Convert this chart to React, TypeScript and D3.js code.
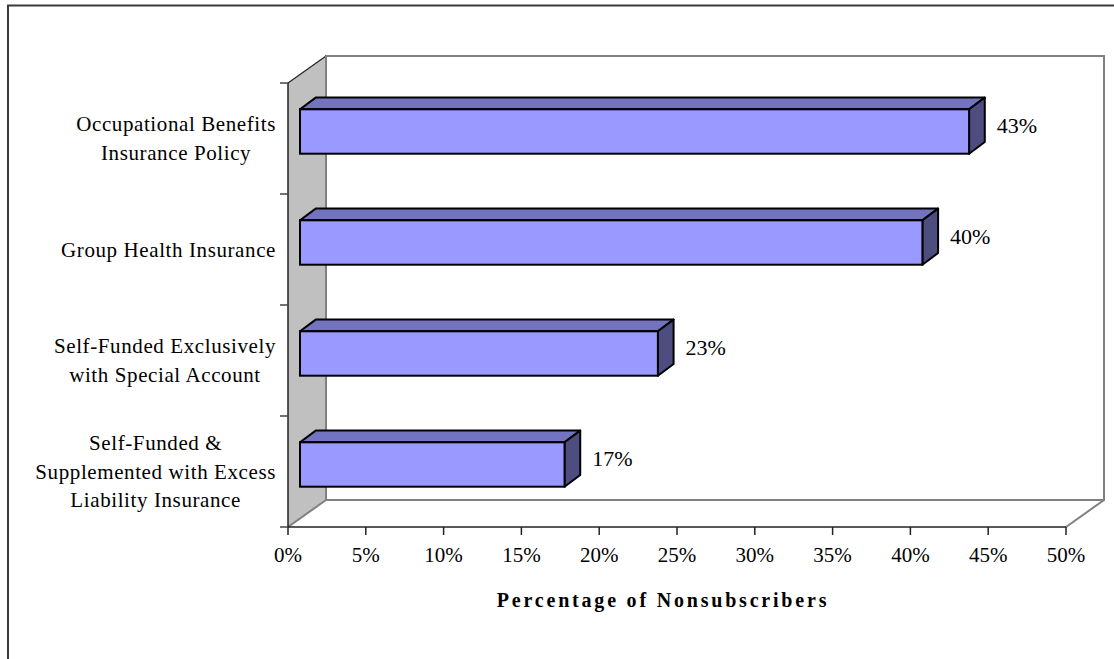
import React, { useEffect, useRef } from "react";
import * as d3 from "d3";

const categoryLines: string[][] = [
  ["Occupational Benefits", "Insurance Policy"],
  ["Group Health Insurance"],
  ["Self-Funded Exclusively", "with Special Account"],
  ["Self-Funded &", "Supplemented with Excess", "Liability Insurance"],
];
const categories = ["Occupational Benefits Insurance Policy", "Group Health Insurance", "Self-Funded Exclusively with Special Account", "Self-Funded & Supplemented with Excess Liability Insurance"];
const values = [43, 40, 23, 17];
const tickValues = [0, 5, 10, 15, 20, 25, 30, 35, 40, 45, 50];
const axisTitle = "Percentage of Nonsubscribers";

const W = 1114;
const H = 659;
const FONT = "'Liberation Serif', 'Times New Roman', serif";

export default function App() {
  const ref = useRef<SVGSVGElement | null>(null);

  useEffect(() => {
    const svg = d3.select(ref.current);
    svg.selectAll("*").remove();

    const x = d3.scaleLinear().domain([0, 50]).range([288, 1066]);
    const y = d3.scaleBand<string>().domain(categories).range([83, 527]).paddingInner(0).paddingOuter(0);
    const DX = 38, DY = -27;
    const d1 = { x: 12, y: -7 };
    const d2 = { x: 27.7, y: -18.7 };
    const barH = 44.4;

    svg.append("rect").attr("x", 8).attr("y", 5.5).attr("width", 1200).attr("height", 800)
      .attr("fill", "white").attr("stroke", "#3a3a3a").attr("stroke-width", 2);

    const x0 = x(0), x50 = x(50);
    const yTop = 83, yBot = 527;

    svg.append("rect").attr("x", x0 + DX).attr("y", yTop + DY).attr("width", x50 - x0).attr("height", yBot - yTop)
      .attr("fill", "white").attr("stroke", "#808080").attr("stroke-width", 2);
    svg.append("polygon")
      .attr("points", [[x0, yTop], [x0 + DX, yTop + DY], [x0 + DX, yBot + DY], [x0, yBot]].map(p => p.join(",")).join(" "))
      .attr("fill", "#c0c0c0").attr("stroke", "none");
    svg.append("line").attr("x1", x0).attr("y1", yTop).attr("x2", x0 + DX).attr("y2", yTop + DY)
      .attr("stroke", "#222").attr("stroke-width", 1.2);
    svg.append("line").attr("x1", x0 + DX).attr("y1", yTop + DY).attr("x2", x0 + DX).attr("y2", yBot + DY)
      .attr("stroke", "#808080").attr("stroke-width", 2);
    svg.append("line").attr("x1", x0).attr("y1", yBot).attr("x2", x0 + DX).attr("y2", yBot + DY)
      .attr("stroke", "#808080").attr("stroke-width", 2);
    svg.append("line").attr("x1", x50).attr("y1", yBot).attr("x2", x50 + DX).attr("y2", yBot + DY)
      .attr("stroke", "#808080").attr("stroke-width", 2);

    svg.append("line").attr("x1", x0).attr("y1", yTop).attr("x2", x0).attr("y2", yBot)
      .attr("stroke", "#222").attr("stroke-width", 1.5);
    svg.append("line").attr("x1", x0).attr("y1", yBot).attr("x2", x50).attr("y2", yBot)
      .attr("stroke", "#222").attr("stroke-width", 1.5);
    const catTicks = categories.map(c => y(c) as number).concat([yBot]);
    svg.selectAll("line.ctick").data(catTicks).enter().append("line")
      .attr("x1", x0 - 8).attr("x2", x0).attr("y1", d => d).attr("y2", d => d)
      .attr("stroke", "#444").attr("stroke-width", 1.5);
    svg.selectAll("line.xtick").data(tickValues).enter().append("line")
      .attr("x1", d => x(d)).attr("x2", d => x(d)).attr("y1", yBot).attr("y2", yBot + 8)
      .attr("stroke", "#222").attr("stroke-width", 1.5);
    svg.selectAll("text.xtl").data(tickValues).enter().append("text")
      .attr("x", d => x(d)).attr("y", 562).attr("text-anchor", "middle")
      .attr("font-family", FONT).attr("font-size", 21).attr("fill", "#000")
      .text(d => `${d}%`);

    const bw = y.bandwidth();
    values.forEach((v, i) => {
      const c = categories[i];
      const fy = (y(c) as number) + (bw - barH) / 2;
      const fx0 = x(0) + d1.x, fx1 = x(v) + d1.x;
      const ft = fy + d1.y, fb = ft + barH;
      const ox = d2.x - d1.x, oy = d2.y - d1.y;
      const g = svg.append("g");
      g.append("polygon")
        .attr("points", [[fx0, ft], [fx0 + ox, ft + oy], [fx1 + ox, ft + oy], [fx1, ft]].map(p => p.join(",")).join(" "))
        .attr("fill", "#7373bf").attr("stroke", "#000").attr("stroke-width", 2).attr("stroke-linejoin", "round");
      g.append("polygon")
        .attr("points", [[fx1, ft], [fx1 + ox, ft + oy], [fx1 + ox, fb + oy], [fx1, fb]].map(p => p.join(",")).join(" "))
        .attr("fill", "#4d4d80").attr("stroke", "#000").attr("stroke-width", 2).attr("stroke-linejoin", "round");
      g.append("rect").attr("x", fx0).attr("y", ft).attr("width", fx1 - fx0).attr("height", barH)
        .attr("fill", "#9999ff").attr("stroke", "#000").attr("stroke-width", 2);
      svg.append("text").attr("x", fx1 + ox + 12).attr("y", ft + barH / 2 + oy / 2 + 7.5)
        .attr("font-family", FONT).attr("font-size", 22).attr("fill", "#000")
        .text(`${v}%`);
    });

    const lineH = 28.5;
    const rightEdge = 276;
    categoryLines.forEach((lines, i) => {
      const c = categories[i];
      const cy = (y(c) as number) + bw / 2;
      const g = svg.append("g");
      const texts = lines.map((ln, j) =>
        g.append("text")
          .attr("y", cy + (j - (lines.length - 1) / 2) * lineH + 7)
          .attr("text-anchor", "middle")
          .attr("font-family", FONT).attr("font-size", 21).attr("letter-spacing", 0.6).attr("fill", "#000")
          .text(ln)
      );
      const widths = texts.map(t => (t.node() as SVGTextElement).getComputedTextLength());
      const maxW = Math.max(...widths);
      texts.forEach(t => t.attr("x", rightEdge - maxW / 2));
    });

    svg.append("text").attr("x", 663).attr("y", 607).attr("text-anchor", "middle")
      .attr("font-family", FONT).attr("font-size", 20).attr("font-weight", "bold").attr("letter-spacing", 2.8)
      .attr("fill", "#000").text(axisTitle);
  }, []);

  return (
    <svg ref={ref} width={W} height={H}
      style={{ position: "fixed", left: 0, top: 0, display: "block", background: "white" }} />
  );
}
